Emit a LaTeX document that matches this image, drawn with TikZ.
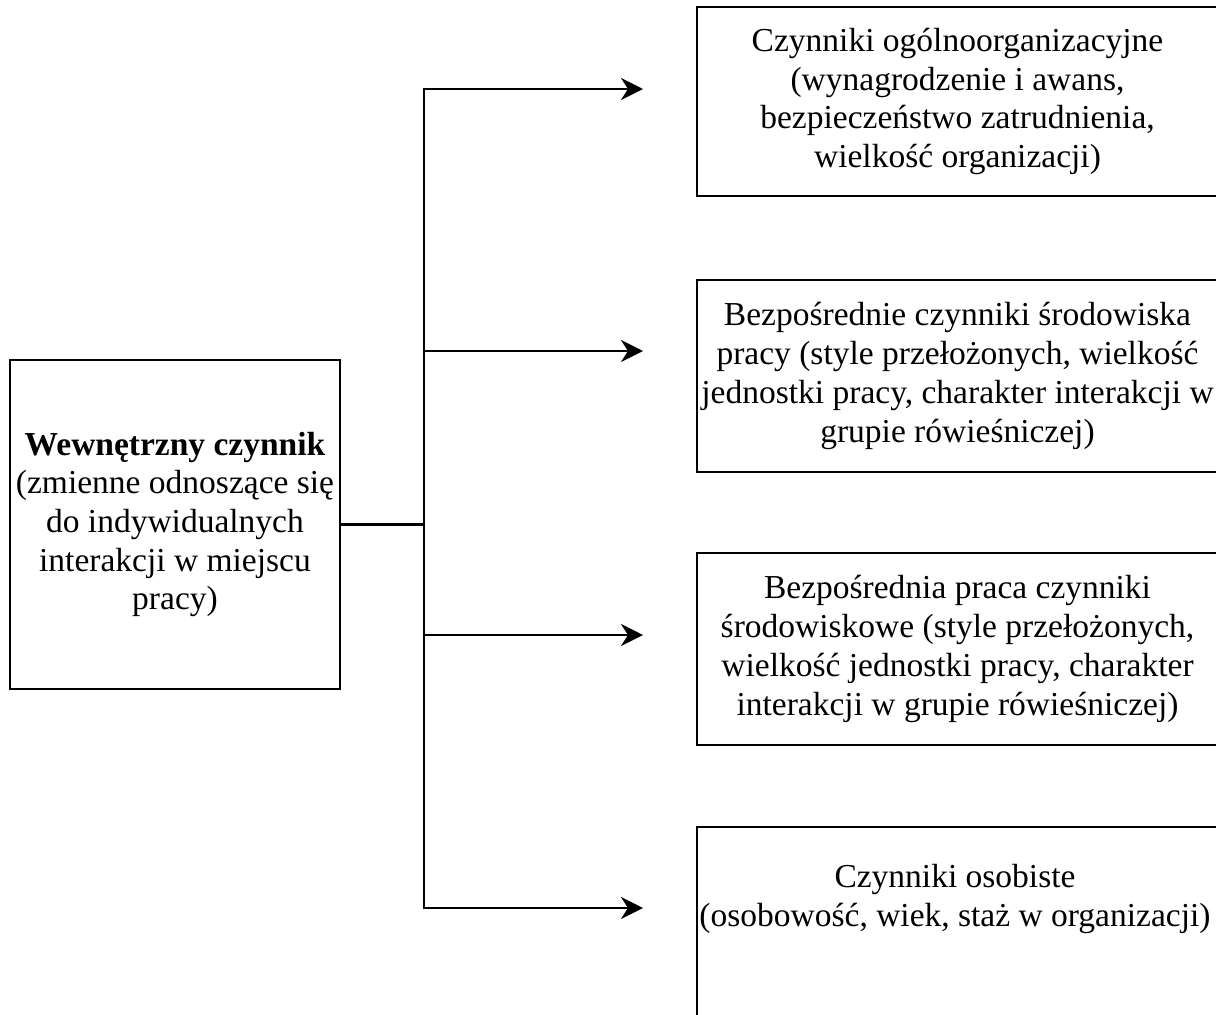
\documentclass[tikz,border=0pt]{standalone}
\usepackage{fontspec}
\setmainfont{Liberation Serif}
\usetikzlibrary{arrows.meta}
\begin{document}
\begin{tikzpicture}[x=1pt,y=-1pt,
  panel/.style={draw=black, line width=2.5pt, fill=white, align=center,
    inner sep=0pt, font=\fontsize{33.5}{38.7}\selectfont},
  caption/.style={align=center, inner sep=0pt, font=\fontsize{33.5}{38.7}\selectfont},
  link/.style={line width=2.5pt},
  arrowlink/.style={link, -{Stealth[length=22pt,width=22pt,inset=7pt]}}]
\useasboundingbox (0,0) rectangle (1216,1015);

% source box
\node[panel, minimum width=330pt, minimum height=329pt] (inner) at (175,524.5)
  {\textbf{Wewnętrzny czynnik}\\(zmienne odnoszące się\\do indywidualnych\\interakcji w miejscu\\pracy)};

% factor boxes (right edges run just past the page)
\node[panel, minimum width=521pt, minimum height=189pt] (general) at (957.5,101.5)
  {Czynniki ogólnoorganizacyjne\\(wynagrodzenie i awans,\\bezpieczeństwo zatrudnienia,\\wielkość organizacji)};
\node[panel, minimum width=521pt, minimum height=192pt] (direct) at (957.5,376)
  {Bezpośrednie czynniki środowiska\\pracy (style przełożonych, wielkość\\jednostki pracy, charakter interakcji w\\grupie rówieśniczej)};
\node[panel, minimum width=521pt, minimum height=192pt] (work) at (957.5,649)
  {Bezpośrednia praca czynniki\\środowiskowe (style przełożonych,\\wielkość jednostki pracy, charakter\\interakcji w grupie rówieśniczej)};
\node[panel, minimum width=521pt, minimum height=192pt] (personal) at (957.5,923) {};
\node[caption] (personaltext) at (955,899)
  {Czynniki osobiste\\(osobowość, wiek, staż w organizacji)};

% branching connector
\coordinate (hub) at (424,524.5);
\coordinate (top) at (424,89);
\coordinate (bottom) at (424,908);
\coordinate (b1) at (424,351);
\coordinate (b2) at (424,635);
\coordinate (e0) at (643,89);
\coordinate (e1) at (643,351);
\coordinate (e2) at (643,635);
\coordinate (e3) at (643,908);

\draw[link] (inner.east) -- (hub);
\draw[link, line cap=rect] (top) -- (bottom);
\draw[arrowlink] (top) -- (e0);
\draw[arrowlink] (b1) -- (e1);
\draw[arrowlink] (b2) -- (e2);
\draw[arrowlink] (bottom) -- (e3);
\end{tikzpicture}
\end{document}
